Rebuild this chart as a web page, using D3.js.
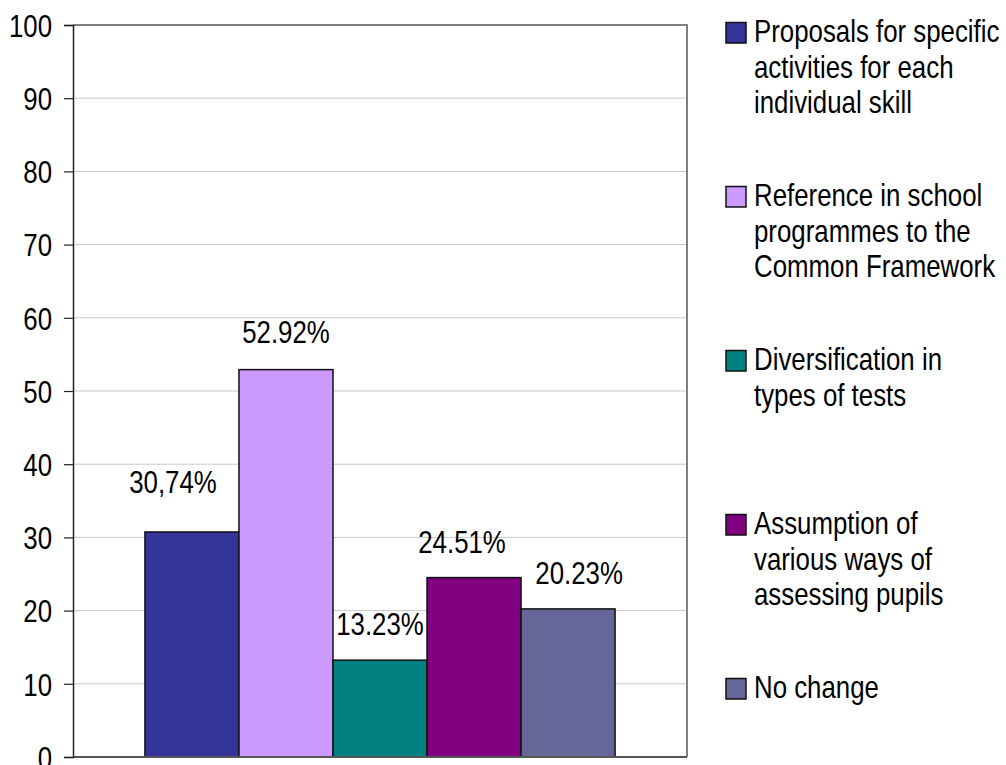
<!DOCTYPE html>
<html>
<head>
<meta charset="utf-8">
<script src="https://cdn.jsdelivr.net/npm/d3@7"></script>
<style>
  html, body { margin: 0; padding: 0; background: #fff; }
  svg { display: block; }
  text { font-family: "Liberation Sans", Arial, sans-serif; fill: #000; }
</style>
</head>
<body>
<svg id="chart" width="1006" height="765"></svg>
<script>
// ---- data ----
const seriesNames = [
  "Proposals for specific activities for each individual skill",
  "Reference in school programmes to the Common Framework",
  "Diversification in types of tests",
  "Assumption of various ways of assessing pupils",
  "No change"
];
const legendLines = [
  ["Proposals for specific", "activities for each", "individual skill"],
  ["Reference in school", "programmes to the", "Common Framework"],
  ["Diversification in", "types of tests"],
  ["Assumption of", "various ways of", "assessing pupils"],
  ["No change"]
];
const values = [30.74, 52.92, 13.23, 24.51, 20.23];
const valueLabels = ["30,74%", "52.92%", "13.23%", "24.51%", "20.23%"];
const seriesColors = ["#333399", "#CC99FF", "#008080", "#800080", "#666699"];
const yTicks = [0, 10, 20, 30, 40, 50, 60, 70, 80, 90, 100];

// ---- layout ----
const svg = d3.select("#chart");
const plot = { left: 73, right: 687, top: 25, bottom: 757 };
const FS = 31.5, SX = 0.82;

const y = d3.scaleLinear().domain([0, 100]).range([plot.bottom, plot.top]);
const x0 = d3.scaleBand().domain(["all"]).range([plot.left, plot.right]).paddingOuter(0.153).paddingInner(0);
const x1 = d3.scaleBand().domain(d3.range(values.length)).range([0, x0.bandwidth()]).padding(0);

function sText(sel, tx, ty, anchor) {
  return sel.append("text")
    .attr("transform", `translate(${tx},${ty}) scale(${SX},1)`)
    .attr("text-anchor", anchor || "start")
    .style("font-size", FS + "px");
}

// gridlines
svg.append("g").selectAll("line").data(yTicks.filter(d => d > 0 && d < 100)).join("line")
  .attr("x1", plot.left).attr("x2", plot.right)
  .attr("y1", d => y(d)).attr("y2", d => y(d))
  .attr("stroke", "#c8c8c8").attr("stroke-width", 1);

// plot border (top & right)
svg.append("path")
  .attr("d", `M${plot.left},${y(100)}H${plot.right}V${plot.bottom}`)
  .attr("fill", "none").attr("stroke", "#808080").attr("stroke-width", 2);

// bars
const gx = x0("all");
svg.append("g").selectAll("rect").data(values).join("rect")
  .attr("x", (d, i) => gx + x1(i))
  .attr("width", x1.bandwidth())
  .attr("y", d => y(d))
  .attr("height", d => y(0) - y(d))
  .attr("fill", (d, i) => seriesColors[i])
  .attr("stroke", "#111").attr("stroke-width", 1.5);

// bottom axis line
svg.append("line")
  .attr("x1", plot.left).attr("x2", plot.right)
  .attr("y1", y(0)).attr("y2", y(0))
  .attr("stroke", "#555").attr("stroke-width", 2);

// y axis
const yAxis = d3.axisLeft(y).tickValues(yTicks).tickSize(9).tickPadding(12);
const ag = svg.append("g").attr("transform", `translate(${plot.left},0)`).call(yAxis);
ag.select(".domain").attr("stroke", "#222").attr("stroke-width", 1.5);
ag.selectAll(".tick line").attr("stroke", "#222").attr("stroke-width", 1.2);
ag.selectAll(".tick text").remove();
ag.selectAll(".tick").each(function(d) {
  sText(d3.select(this), -21, 11.3, "end").text(d);
});

// value labels (small manual nudges as in the original)
const labelNudge = [[-19, -14], [0, -2], [0, 0], [-12, 0], [11, 0]];
values.forEach((v, i) => {
  const cx = gx + x1(i) + x1.bandwidth() / 2 + labelNudge[i][0];
  const cy = y(v) - 25 + labelNudge[i][1];
  sText(svg, cx, cy, "middle").text(valueLabels[i]);
});

// legend
const legY = d3.scaleLinear().domain([0, seriesNames.length - 1]).range([42, 698]);
const lineH = 35.5;
seriesNames.forEach((name, i) => {
  const by = legY(i);
  svg.append("rect")
    .attr("x", 726).attr("y", by - 19.5).attr("width", 20).attr("height", 20.5)
    .attr("fill", seriesColors[i]).attr("stroke", "#111").attr("stroke-width", 1.5);
  legendLines[i].forEach((ln, j) => {
    sText(svg, 754, by + j * lineH, "start").text(ln);
  });
});
</script>
</body>
</html>
